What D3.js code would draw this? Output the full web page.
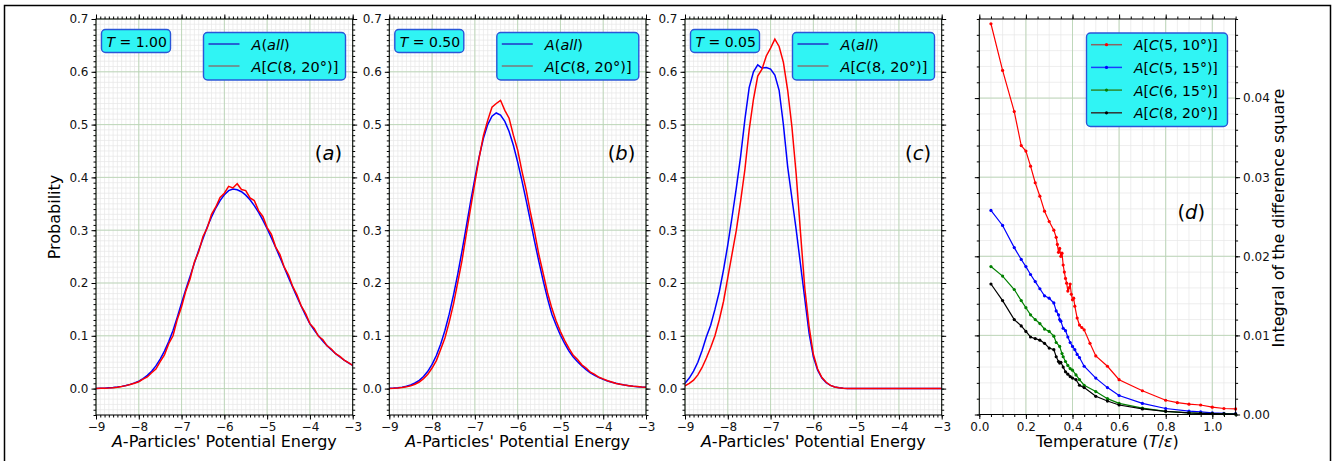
<!DOCTYPE html>
<html>
<head>
<meta charset="utf-8">
<script src="https://cdn.jsdelivr.net/npm/d3@7"></script>
<style>
body { margin: 0; background: #fff; }
svg { font-family: "DejaVu Sans", sans-serif; }
</style>
</head>
<body>
<svg id="fig" width="1335" height="461"></svg>
<script>
// energy bins shared by panels a, b, c
var energyBins = [-9.0,-8.9,-8.8,-8.7,-8.6,-8.5,-8.4,-8.3,-8.2,-8.1,-8.0,-7.9,-7.8,-7.7,-7.6,-7.5,-7.4,-7.3,-7.2,-7.1,
  -7.0,-6.9,-6.8,-6.7,-6.6,-6.5,-6.4,-6.3,-6.2,-6.1,-6.0,-5.9,-5.8,-5.7,-5.6,-5.5,-5.4,-5.3,-5.2,-5.1,
  -5.0,-4.9,-4.8,-4.7,-4.6,-4.5,-4.4,-4.3,-4.2,-4.1,-4.0,-3.9,-3.8,-3.7,-3.6,-3.5,-3.4,-3.3,-3.2,-3.1,-3.0]

// (a) T = 1.00
var aAll = [.0004,.0006,.0009,.0014,.0020,.0029,.0042,.0058,.0080,.0108,.0140,.0190,.0250,.0330,.0430,.0560,.0710,.0890,.1100,.1350,
  .1620,.1880,.2130,.2380,.2620,.2840,.3060,.3250,.3420,.3560,.3670,.3750,.3780,.3767,.3728,.3664,.3576,.3466,.3336,.3189,
  .3028,.2854,.2671,.2483,.2293,.2102,.1914,.1731,.1554,.1386,.1227,.1107,.0999,.0902,.0814,.0735,.0663,.0598,.0540,.0487,.0440]
var aC820 = [.0003,.0005,.0008,.0012,.0018,.0027,.0040,.0056,.0078,.0100,.0130,.0180,.0220,.0300,.0370,.0510,.0640,.0850,.1000,.1310,
  .1550,.1850,.2080,.2400,.2590,.2880,.3040,.3300,.3440,.3620,.3700,.3830,.3800,.3880,.3770,.3750,.3610,.3560,.3370,.3260,
  .3050,.2920,.2680,.2540,.2300,.2150,.1930,.1770,.1560,.1420,.1230,.1140,.0990,.0930,.0810,.0750,.0660,.0610,.0540,.0490,.0440]

// (b) T = 0.50
var bAll = [.0006,.0010,.0017,.0028,.0044,.0069,.0106,.0157,.0229,.0328,.0458,.0627,.0840,.1100,.1410,.1770,.2170,.2610,.3070,.3540,
  .3980,.4390,.4740,.5000,.5160,.5220,.5180,.5060,.4870,.4610,.4290,.3940,.3560,.3170,.2770,.2390,.2030,.1700,.1410,.1200,
  .1010,.0850,.0710,.0600,.0510,.0430,.0360,.0300,.0250,.0210,.0175,.0145,.0120,.0100,.0082,.0067,.0055,.0045,.0037,.0030,.0025]
var bC820 = [.0004,.0007,.0012,.0020,.0033,.0052,.0083,.0125,.0190,.0270,.0390,.0530,.0740,.0960,.1260,.1600,.2010,.2430,.2930,.3420,
  .3900,.4370,.4790,.5080,.5330,.5400,.5460,.5270,.5120,.4800,.4520,.4120,.3760,.3330,.2950,.2520,.2170,.1810,.1520,.1280,
  .1080,.0910,.0760,.0630,.0550,.0450,.0390,.0310,.0270,.0215,.0185,.0148,.0124,.0098,.0084,.0066,.0056,.0044,.0038,.0030,.0025]

// (c) T = 0.05
var cAll = [.010,.020,.033,.050,.072,.098,.120,.150,.183,.225,.272,.325,.380,.440,.510,.570,.600,.613,.607,.608,
  .605,.594,.565,.500,.420,.360,.300,.235,.170,.105,.060,.035,.020,.011,.006,.003,.0015,.0006,.0002,.0001,
  0,0,0,0,0,0,0,0,0,0,0,0,0,0,0,0,0,0,0,0,0]
var cC820 = [.005,.010,.016,.026,.040,.058,.078,.100,.130,.165,.210,.255,.300,.355,.415,.490,.548,.592,.605,.630,
  .645,.662,.648,.618,.565,.495,.405,.295,.190,.118,.065,.037,.021,.012,.006,.003,.0015,.0006,.0002,.0001,
  0,0,0,0,0,0,0,0,0,0,0,0,0,0,0,0,0,0,0,0,0]

// (d) integral of the difference square vs temperature
var c510T = [0.05,0.10,0.15,0.18,0.20,0.22,0.24,0.26,0.28,0.30,0.32,0.33,0.335,0.34,0.345,0.35,0.355,0.36,0.365,0.37,0.375,0.38,
  0.385,0.39,0.395,0.40,0.405,0.41,0.42,0.43,0.44,0.45,0.475,0.50,0.55,0.60,0.70,0.80,0.85,0.90,0.95,1.00,1.05,1.10]
var c510V = [.0494,.0435,.0383,.0340,.0333,.0314,.0293,.0276,.0257,.0244,.0233,.0224,.0215,.0205,.0210,.0200,.0204,.0189,.0180,.0172,.0166,.0156,
  .0160,.0165,.0152,.0145,.0147,.0137,.0122,.0113,.0110,.0107,.0090,.0074,.0061,.0044,.0030,.0018,.0015,.0013,.0012,.00093,.00076,.0007]
var c515T = [0.05,0.10,0.15,0.18,0.20,0.22,0.24,0.26,0.28,0.30,0.32,0.33,0.34,0.345,0.35,0.36,0.37,0.38,0.39,0.40,0.41,0.42,0.43,0.45,
  0.50,0.55,0.60,0.70,0.80,0.90,0.95,1.00,1.05,1.10]
var c515V = [.0258,.0239,.0211,.0196,.0187,.0177,.0168,.0159,.0150,.0147,.0141,.0131,.0126,.0120,.0118,.0109,.0106,.0098,.0091,.0086,.0082,.0076,.0072,.0061,
  .0046,.0034,.0024,.0014,.00076,.00042,.00034,.00021,.00013,.0001]
var c615T = [0.05,0.10,0.15,0.18,0.20,0.22,0.24,0.26,0.28,0.30,0.32,0.33,0.345,0.355,0.36,0.37,0.38,0.39,0.40,0.415,0.43,0.45,
  0.50,0.55,0.60,0.70,0.80,0.90,0.95,1.00,1.05,1.10]
var c615V = [.0187,.0175,.0158,.0144,.0135,.0126,.0120,.0115,.0108,.0105,.0099,.0091,.0086,.0077,.0073,.0067,.0062,.0058,.0056,.0050,.0044,.0037,
  .0029,.0020,.0014,.0008,.0004,.0002,.00015,.0001,.00008,.00006]
var c820T = [0.05,0.10,0.15,0.18,0.20,0.22,0.24,0.26,0.28,0.30,0.32,0.33,0.34,0.345,0.35,0.36,0.37,0.38,0.39,0.40,0.415,0.43,0.45,
  0.50,0.55,0.60,0.70,0.80,0.90,0.95,1.00,1.05,1.10]
var c820V = [.0165,.0144,.0120,.0112,.0105,.0098,.0096,.0094,.0090,.0084,.0082,.0073,.0067,.0065,.0066,.0060,.0054,.0051,.0048,.0046,.0044,.0037,.0034,
  .0023,.0017,.0012,.0007,.0004,.0002,.00015,.0001,.00008,.00006]

// ticks
var energyTicks = [-9,-8,-7,-6,-5,-4,-3]
var probTicks = [0,0.1,0.2,0.3,0.4,0.5,0.6,0.7]
var tempTicks = [0,0.2,0.4,0.6,0.8,1.0]
var integralTicks = [0,0.01,0.02,0.03,0.04]

var cyan = '#30f4f4', boxBlue = '#2a56d8'
var majorGrid = '#b9d5b4', minorGrid = '#e6e6e6'

var svg = d3.select('#fig')

// outer frame
svg.append('rect')
  .attr('x', 4.5).attr('y', 5.5).attr('width', 1326).attr('height', 500)
  .attr('fill', 'none').attr('stroke', '#000').attr('stroke-width', 1.5)

// helper: draw grid + ticks on 4 sides
function frame(g, x, y, xMajor, xMinor, yMajor, yMinor, xFmt, yFmt, yLabelsRight) {
  var x0 = x.range()[0], x1 = x.range()[1], y0 = y.range()[0], y1 = y.range()[1]
  var grid = g.append('g')
  grid.selectAll('.vmin').data(xMinor).enter().append('line')
    .attr('x1', d => x(d)).attr('x2', d => x(d)).attr('y1', y0).attr('y2', y1)
    .attr('stroke', minorGrid).attr('stroke-width', 0.7)
  grid.selectAll('.hmin').data(yMinor).enter().append('line')
    .attr('y1', d => y(d)).attr('y2', d => y(d)).attr('x1', x0).attr('x2', x1)
    .attr('stroke', minorGrid).attr('stroke-width', 0.7)
  grid.selectAll('.vmaj').data(xMajor).enter().append('line')
    .attr('x1', d => x(d)).attr('x2', d => x(d)).attr('y1', y0).attr('y2', y1)
    .attr('stroke', majorGrid).attr('stroke-width', 0.9)
  grid.selectAll('.hmaj').data(yMajor).enter().append('line')
    .attr('y1', d => y(d)).attr('y2', d => y(d)).attr('x1', x0).attr('x2', x1)
    .attr('stroke', majorGrid).attr('stroke-width', 0.9)

  function ax(gen, tr, vals, size, fmt) {
    var a = g.append('g').attr('transform', tr)
      .call(gen.tickValues(vals).tickSize(size).tickSizeOuter(0).tickPadding(3).tickFormat(fmt))
    a.select('.domain').remove()
    a.selectAll('text').attr('font-size', 12).attr('fill', '#111').attr('font-family', '"DejaVu Sans"')
    a.selectAll('line').attr('stroke', '#000')
    return a
  }
  var none = () => ''
  ax(d3.axisBottom(x), 'translate(0,' + y0 + ')', xMajor, 4.5, xFmt)
  ax(d3.axisBottom(x), 'translate(0,' + y0 + ')', xMinor, 2.5, none)
  ax(d3.axisTop(x), 'translate(0,' + y1 + ')', xMajor, 4.5, none)
  ax(d3.axisTop(x), 'translate(0,' + y1 + ')', xMinor, 2.5, none)
  ax(d3.axisLeft(y), 'translate(' + x0 + ',0)', yMajor, 4.5, yLabelsRight ? none : yFmt)
  ax(d3.axisLeft(y), 'translate(' + x0 + ',0)', yMinor, 2.5, none)
  ax(d3.axisRight(y), 'translate(' + x1 + ',0)', yMajor, 4.5, yLabelsRight ? yFmt : none)
  ax(d3.axisRight(y), 'translate(' + x1 + ',0)', yMinor, 2.5, none)
}

function mathText(sel, parts, size) {
  // parts: [text, italic?]
  parts.forEach(function (p) {
    sel.append('tspan').text(p[0]).attr('font-style', p[1] ? 'italic' : 'normal')
  })
  sel.attr('font-size', size)
}

var panelW = 256.7, plotTop = 19, plotBottom = 415
var distPanels = [
  {left: 96, all: aAll, sel: aC820, temp: '1.00', tag: 'a'},
  {left: 389.3, all: bAll, sel: bC820, temp: '0.50', tag: 'b'},
  {left: 685, all: cAll, sel: cC820, temp: '0.05', tag: 'c'}
]
var minorE = d3.range(-9, -2.999, 0.1)
var minorP = d3.range(-0.05, 0.7001, 0.01)

distPanels.forEach(function (p, i) {
  var g = svg.append('g')
  var x = d3.scaleLinear().domain([-9, -3]).range([p.left, p.left + panelW])
  var y = d3.scaleLinear().domain([-0.05, 0.7]).range([plotBottom, plotTop])
  frame(g, x, y, energyTicks, minorE, probTicks, minorP, d3.format('d'), d3.format('.1f'), false)

  g.append('clipPath').attr('id', 'clip' + i).append('rect')
    .attr('x', p.left).attr('y', plotTop).attr('width', panelW).attr('height', plotBottom - plotTop)
  var line = d3.line().x((d, k) => x(energyBins[k])).y(d => y(d))
  g.append('path').datum(p.all).attr('d', line).attr('fill', 'none')
    .attr('stroke', '#0000ff').attr('stroke-width', 1.5).attr('clip-path', 'url(#clip' + i + ')')
  g.append('path').datum(p.sel).attr('d', line).attr('fill', 'none')
    .attr('stroke', '#ff0000').attr('stroke-width', 1.5).attr('clip-path', 'url(#clip' + i + ')')

  g.append('rect').attr('x', p.left).attr('y', plotTop).attr('width', panelW).attr('height', plotBottom - plotTop)
    .attr('fill', 'none').attr('stroke', '#000').attr('stroke-width', 1)

  // temperature box
  g.append('rect').attr('x', p.left + 5.5).attr('y', 29.5).attr('width', 69).attr('height', 23).attr('rx', 4)
    .attr('fill', cyan).attr('stroke', boxBlue).attr('stroke-width', 1.4)
  mathText(g.append('text').attr('x', p.left + 10.5).attr('y', 46.5),
    [['T', true], [' = ' + p.temp, false]], 14)

  // legend
  var lx = p.left + 107.5
  g.append('rect').attr('x', lx).attr('y', 32.5).attr('width', 142).attr('height', 47.5).attr('rx', 4)
    .attr('fill', cyan).attr('stroke', boxBlue).attr('stroke-width', 1.4)
  g.append('line').attr('x1', lx + 5).attr('x2', lx + 36).attr('y1', 44).attr('y2', 44)
    .attr('stroke', '#2232c8').attr('stroke-width', 1.5)
  g.append('line').attr('x1', lx + 5).attr('x2', lx + 36).attr('y1', 66).attr('y2', 66)
    .attr('stroke', '#7a7a7a').attr('stroke-width', 1.5)
  mathText(g.append('text').attr('x', lx + 48).attr('y', 49.5),
    [['A', true], ['(', false], ['all', true], [')', false]], 14.5)
  mathText(g.append('text').attr('x', lx + 48).attr('y', 72),
    [['A', true], ['[', false], ['C', true], ['(8, 20°)]', false]], 14.5)

  mathText(g.append('text').attr('x', p.left + 246).attr('y', 160).attr('text-anchor', 'end'),
    [['(', false], [p.tag, true], [')', false]], 19.5)

  mathText(g.append('text').attr('x', p.left + panelW / 2).attr('y', 447).attr('text-anchor', 'middle'),
    [['A', true], ["-Particles' Potential Energy", false]], 16)
})

svg.append('text').attr('transform', 'translate(60,217) rotate(-90)')
  .attr('text-anchor', 'middle').attr('font-size', 16).text('Probability')

// panel d
var gd = svg.append('g')
var xd = d3.scaleLinear().domain([0, 1.1]).range([979.3, 1235.6])
var yd = d3.scaleLinear().domain([0, 0.05]).range([414.5, 19])
frame(gd, xd, yd, tempTicks, d3.range(0, 1.1001, 0.05), integralTicks, d3.range(0, 0.05001, 0.002),
  d3.format('.1f'), d3.format('.2f'), true)

gd.append('clipPath').attr('id', 'clipd').append('rect')
  .attr('x', 979.3).attr('y', 15).attr('width', 260).attr('height', 405)
var seriesD = [
  {t: c510T, v: c510V, color: '#ff0000', handle: '#8a6464', label: '(5, 10°)]'},
  {t: c515T, v: c515V, color: '#0000ff', handle: '#1a3cff', label: '(5, 15°)]'},
  {t: c615T, v: c615V, color: '#008000', handle: '#2e8a2e', label: '(6, 15°)]'},
  {t: c820T, v: c820V, color: '#000000', handle: '#333333', label: '(8, 20°)]'}
]
seriesD.forEach(function (s) {
  var pts = s.t.map((t, k) => [t, s.v[k]])
  gd.append('path').datum(pts)
    .attr('d', d3.line().x(d => xd(d[0])).y(d => yd(d[1])))
    .attr('fill', 'none').attr('stroke', s.color).attr('stroke-width', 1.2)
    .attr('clip-path', 'url(#clipd)')
  gd.selectAll(null).data(pts).enter().append('circle')
    .attr('cx', d => xd(d[0])).attr('cy', d => yd(d[1])).attr('r', 1.6)
    .attr('fill', s.color).attr('clip-path', 'url(#clipd)')
})
gd.append('rect').attr('x', 979.3).attr('y', 19).attr('width', 1235.6 - 979.3).attr('height', 414.5 - 19)
  .attr('fill', 'none').attr('stroke', '#000').attr('stroke-width', 1)

// legend d
gd.append('rect').attr('x', 1086.5).attr('y', 33).attr('width', 141).attr('height', 93.5).attr('rx', 4)
  .attr('fill', cyan).attr('stroke', boxBlue).attr('stroke-width', 1.4)
seriesD.forEach(function (s, k) {
  var yy = 44.7 + k * 22.7
  gd.append('line').attr('x1', 1091).attr('x2', 1122).attr('y1', yy).attr('y2', yy)
    .attr('stroke', s.handle).attr('stroke-width', 1.5)
  gd.append('circle').attr('cx', 1106.5).attr('cy', yy).attr('r', 1.6).attr('fill', s.color)
  mathText(gd.append('text').attr('x', 1134).attr('y', yy + 5.5),
    [['A', true], ['[', false], ['C', true], [s.label, false]], 14)
})

mathText(gd.append('text').attr('x', 1205).attr('y', 219).attr('text-anchor', 'end'),
  [['(', false], ['d', true], [')', false]], 19.5)
mathText(gd.append('text').attr('x', (979.3 + 1235.6) / 2).attr('y', 447).attr('text-anchor', 'middle'),
  [['Temperature (', false], ['T', true], ['/', false], ['ε', true], [')', false]], 16)
svg.append('text').attr('transform', 'translate(1284,218) rotate(-90)')
  .attr('text-anchor', 'middle').attr('font-size', 16).text('Integral of the difference square')
</script>
</body>
</html>
